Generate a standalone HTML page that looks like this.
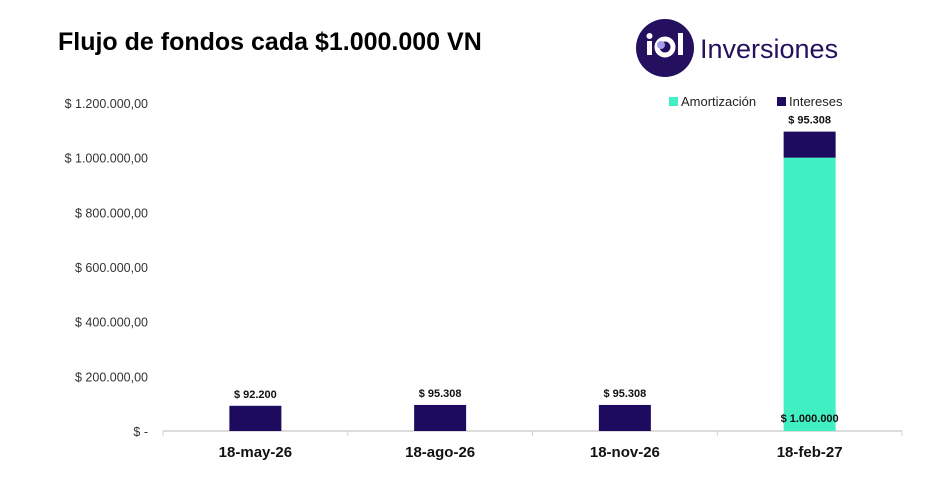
<!DOCTYPE html>
<html><head><meta charset="utf-8"><style>
body{margin:0;background:#fff;font-family:"Liberation Sans",sans-serif;}
</style></head><body>
<svg width="934" height="475" xmlns="http://www.w3.org/2000/svg">
<text x="58" y="50" font-size="25" font-weight="bold" fill="#000">Flujo de fondos cada $1.000.000 VN</text>
<g>
<circle cx="665" cy="48" r="29" fill="#24105f"/>
<circle cx="665" cy="47" r="8" fill="none" stroke="#fff" stroke-width="5"/>
<circle cx="661" cy="45" r="4" fill="#a79ee8"/>
<rect x="647" y="41" width="5" height="14" fill="#fff"/><circle cx="649.5" cy="36" r="3" fill="#fff"/>
<rect x="678" y="33" width="5" height="22" fill="#fff"/>
<text x="700" y="58" font-size="27" fill="#24105f">Inversiones</text>
</g>
<g>
<rect x="669" y="97" width="9" height="9" fill="#40efc2"/>
<text x="681" y="106" font-size="13" fill="#222">Amortización</text>
<rect x="777" y="97" width="9" height="9" fill="#1c0b5e"/>
<text x="789" y="106" font-size="13" fill="#222">Intereses</text>
</g>
<g id="axes"></g><g id="bars"></g>
</svg>
<script>
const categories=["18-may-26","18-ago-26","18-nov-26","18-feb-27"];
const amortizacion=[0,0,0,1000000];
const intereses=[92200,95308,95308,95308];
const yTicks=[0,200000,400000,600000,800000,1000000,1200000];
const yTickLabels=["$ -","$ 200.000,00","$ 400.000,00","$ 600.000,00","$ 800.000,00","$ 1.000.000,00","$ 1.200.000,00"];
const ns="http://www.w3.org/2000/svg";
const x0=163,x1=902,yZero=431,yTop=103,yMax=1200000;
const y=v=>yZero-(v/yMax)*(yZero-yTop);
const band=(x1-x0)/categories.length;
const xc=i=>x0+band*(i+0.5);
function mk(tag,attrs,parent,text){const e=document.createElementNS(ns,tag);for(const k in attrs)e.setAttribute(k,attrs[k]);if(text!==undefined)e.textContent=text;parent.appendChild(e);return e;}
const ax=document.getElementById('axes'),bg=document.getElementById('bars');
yTicks.forEach((t,i)=>{const e=mk('text',{x:148,y:y(t)+5,'font-size':12.5,'text-anchor':'end',fill:'#333'},ax,yTickLabels[i]);

});
const base=mk('line',{x1:x0,x2:x1,y1:yZero,y2:yZero,stroke:'#d0d0d0','stroke-width':1.5},ax);


for(let i=0;i<=categories.length;i++){mk('line',{x1:x0+band*i,x2:x0+band*i,y1:yZero,y2:yZero+5,stroke:'#d0d0d0'},ax);}
categories.forEach((c,i)=>{const e=mk('text',{x:xc(i),y:457,'font-size':15,'font-weight':'bold','text-anchor':'middle',fill:'#111'},ax,c);

});
const bw=52;
categories.forEach((c,i)=>{
 const a=amortizacion[i],n=intereses[i];
 if(a>0){const r=mk('rect',{x:xc(i)-bw/2,y:y(a),width:bw,height:yZero-y(a),fill:'#40efc2'},bg);
 
 
 const t=mk('text',{x:xc(i),y:yZero-9,'font-size':11,'font-weight':'bold','text-anchor':'middle',fill:'#111'},bg,'$ '+a.toLocaleString('de-DE'));
 
 }
 const r=mk('rect',{x:xc(i)-bw/2,y:y(a+n),width:bw,height:y(a)-y(a+n),fill:'#1c0b5e'},bg);
 
 
 const t=mk('text',{x:xc(i),y:y(a+n)-8,'font-size':11,'font-weight':'bold','text-anchor':'middle',fill:'#111'},bg,'$ '+n.toLocaleString('de-DE'));
 
 
});
</script>
</body></html>
